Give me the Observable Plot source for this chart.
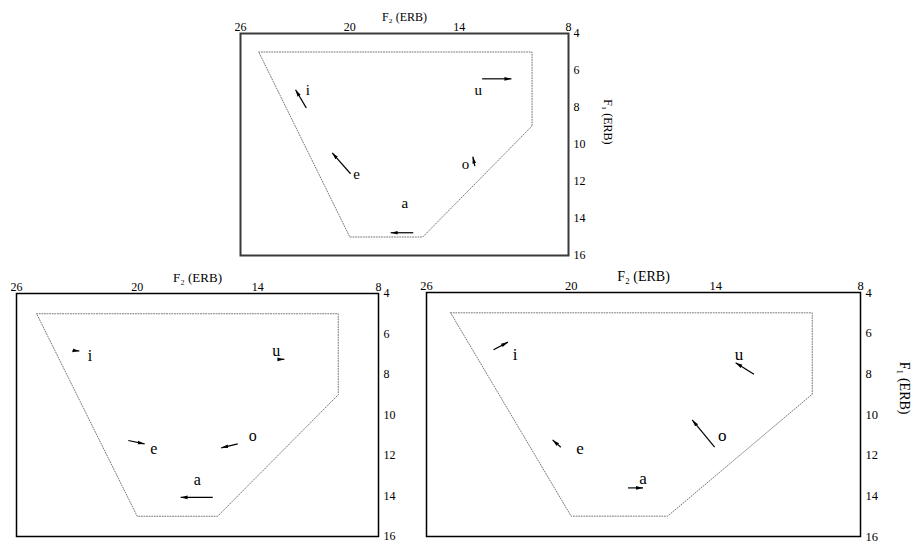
<!DOCTYPE html>
<html><head><meta charset="utf-8">
<script src="https://cdn.jsdelivr.net/npm/d3@7"></script>
<script src="https://cdn.jsdelivr.net/npm/@observablehq/plot@0.6"></script>
<style>
body{margin:0;background:#fff}
#c{position:relative;width:913px;height:543px;overflow:hidden;background:#fff}
#c svg{position:absolute;overflow:visible}
#c svg, #c svg text{font-family:"Liberation Serif","DejaVu Serif",serif !important}
</style>
</head><body><div id="c"></div>
<script>
const vowels = ["i","e","a","o","u"];
const f2Ticks = [26,20,14,8];
const f1Ticks = [4,6,8,10,12,14,16];
const regionF2 = [25,10,10,16,20,25];
const regionF1 = [5,5,9,15,15,5];

// top panel
const topLabelF2 = [22.3,19.63,16.98,13.65,12.95];
const topLabelF1 = [7.08,11.62,13.17,11.08,7.08];
const topFromF2 = [22.39,19.96,16.52,13.14,12.74];
const topFromF1 = [8.02,11.58,14.77,11.17,6.45];
const topToF2 = [22.98,20.97,17.76,13.25,11.13];
const topToF1 = [7.04,10.45,14.77,10.65,6.45];

// lower-left panel
const leftLabelF2 = [22.35,19.17,17.01,14.25,13.08];
const leftLabelF1 = [7.09,11.67,13.19,11.05,6.84];
const leftFromF2 = [23.1,20.44,16.24,15.0,12.88];
const leftFromF1 = [6.82,11.26,14.07,11.43,7.25];
const leftToF2 = [22.87,19.63,17.84,15.82,12.68];
const leftToF1 = [6.84,11.43,14.07,11.62,7.25];

// lower-right panel
const rightLabelF2 = [22.33,19.63,17.02,13.73,13.04];
const rightLabelF1 = [7.07,11.66,13.13,11.05,7.07];
const rightFromF2 = [23.22,20.43,17.64,14.05,12.42];
const rightFromF1 = [6.82,11.61,13.61,11.61,8.02];
const rightToF2 = [22.62,20.77,17.02,14.98,13.18];
const rightToF1 = [6.44,11.25,13.61,10.27,7.45];

const serif = "'Liberation Serif', 'DejaVu Serif', serif";

function filledArrow(color, context) {
  const m = d3.create("svg:marker")
    .attr("viewBox", "-5 -5 10 10")
    .attr("markerUnits", "userSpaceOnUse")
    .attr("markerWidth", 7).attr("markerHeight", 7)
    .attr("refX", 5).attr("refY", 0)
    .attr("orient", "auto")
    .attr("fill", color).attr("stroke", "none");
  m.append("path").attr("d", "M-5,-2.6L5,0L-5,2.6Z");
  return m.node();
}

const panels = [
  {left:200, top:0, width:428, height:265, ml:40, mr:60, mt:33, mb:10,
   lf2:topLabelF2, lf1:topLabelF1, a:[topFromF2,topFromF1,topToF2,topToF1],
   tick:12, vsize:15, title:12, frame:"#3a3a3a", fw:2, f1dx:39},
  {left:0, top:260, width:408, height:283, ml:16, mr:30, mt:33, mb:7,
   lf2:leftLabelF2, lf1:leftLabelF1, a:[leftFromF2,leftFromF1,leftToF2,leftToF1],
   tick:12, vsize:16, title:13, frame:"#000", fw:1.5, f1dx:null},
  {left:410, top:260, width:503, height:283, ml:16, mr:53, mt:32, mb:7,
   lf2:rightLabelF2, lf1:rightLabelF1, a:[rightFromF2,rightFromF1,rightToF2,rightToF1],
   tick:12.5, vsize:17, title:14, frame:"#000", fw:1.5, f1dx:44}
];

const container = document.getElementById("c");
for (const p of panels) {
  const labels = vowels.map((v, i) => ({v, x: p.lf2[i], y: p.lf1[i]}));
  const arrows = vowels.map((v, i) => ({x1: p.a[0][i], y1: p.a[1][i], x2: p.a[2][i], y2: p.a[3][i]}));
  const region = regionF2.map((x, i) => ({x, y: regionF1[i]}));
  const marks = [
    Plot.frame({stroke: p.frame, strokeWidth: p.fw}),
    Plot.line(region, {x: "x", y: "y", stroke: "#777", strokeWidth: 1, strokeDasharray: "1 1.6"}),
    Plot.link(arrows, {x1: "x1", y1: "y1", x2: "x2", y2: "y2", stroke: "#000", strokeWidth: 1.2, markerEnd: filledArrow}),
    Plot.text(labels, {x: "x", y: "y", text: "v", fontSize: p.vsize, fontFamily: serif, fill: "#000"}),
    Plot.axisX({anchor: "top", ticks: f2Ticks, tickSize: 0, tickPadding: 3, fontSize: p.tick, fontFamily: serif, label: null}),
    Plot.axisY({anchor: "right", ticks: f1Ticks, tickSize: 0, tickPadding: 5, fontSize: p.tick, fontFamily: serif, label: null}),
    Plot.text(["F₂ (ERB)"], {frameAnchor: "top", dy: -21, fontSize: p.title, fontFamily: serif, fill: "#000"})
  ];
  if (p.f1dx != null) {
    marks.push(Plot.text(["F₁ (ERB)"], {frameAnchor: "right", dx: p.f1dx, rotate: 90, fontSize: p.title, fontFamily: serif, fill: "#000"}));
  }
  const svg = Plot.plot({
    width: p.width, height: p.height,
    marginLeft: p.ml, marginRight: p.mr, marginTop: p.mt, marginBottom: p.mb,
    x: {domain: [26, 8]},
    y: {domain: [4, 16], reverse: true},
    style: {fontFamily: serif, color: "#000", background: "transparent", overflow: "visible"},
    marks
  });
  svg.style.left = p.left + "px";
  svg.style.top = p.top + "px";
  container.appendChild(svg);
}
</script>
</body></html>
